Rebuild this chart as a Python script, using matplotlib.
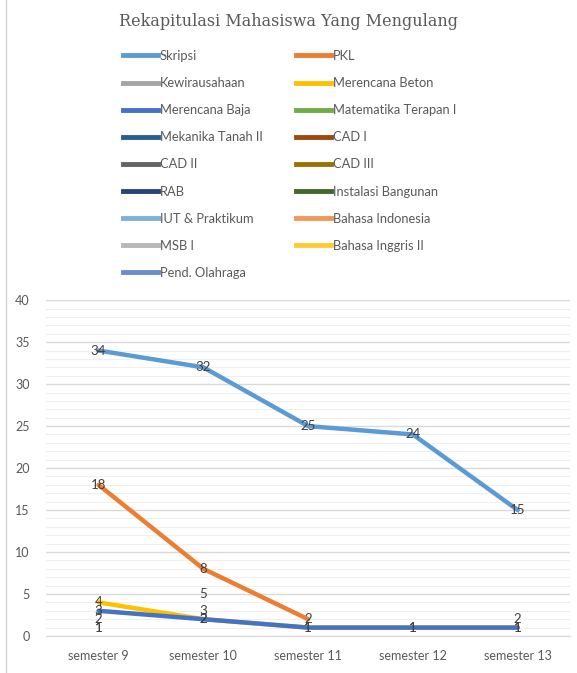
import matplotlib.pyplot as plt
from matplotlib.lines import Line2D
from matplotlib.ticker import MultipleLocator

semesters = ['semester 9', 'semester 10', 'semester 11', 'semester 12', 'semester 13']

# values per course (None = no data)
skripsi = [34, 32, 25, 24, 15]
pkl = [18, 8, 2, None, None]
kewirausahaan = [1, None, None, None, None]
merencana_beton = [4, 2, 1, 1, 1]
merencana_baja = [3, 2, 1, 1, 1]
matematika = [2, None, None, None, None]
mekanika = [1, None, None, None, None]
cad1 = [None, 5, None, None, None]
cad2 = [None, 3, None, None, None]
cad3 = [None, None, None, None, 2]
rab = [None, None, None, None, None]
instalasi = [None, None, None, None, None]
iut = [None, None, None, None, None]
bhs_indo = [None, None, None, None, None]
msb1 = [None, None, None, None, None]
bhs_inggris = [None, None, None, None, None]
olahraga = [None, None, None, None, None]

names = ['Skripsi', 'PKL', 'Kewirausahaan', 'Merencana Beton', 'Merencana Baja',
         'Matematika Terapan I', 'Mekanika Tanah II', 'CAD I', 'CAD II', 'CAD III',
         'RAB', 'Instalasi Bangunan', 'IUT & Praktikum', 'Bahasa Indonesia',
         'MSB I', 'Bahasa Inggris II', 'Pend. Olahraga']
series = [skripsi, pkl, kewirausahaan, merencana_beton, merencana_baja, matematika,
          mekanika, cad1, cad2, cad3, rab, instalasi, iut, bhs_indo, msb1,
          bhs_inggris, olahraga]
colors = ['#5B9BD5', '#ED7D31', '#A5A5A5', '#FFC000', '#4472C4', '#70AD47',
          '#255E91', '#9E480E', '#636363', '#997300', '#264478', '#43682B',
          '#7CAFDD', '#F1975A', '#B7B7B7', '#FFCD33', '#698ED0']

plt.rcParams['font.family'] = ['Lato', 'DejaVu Sans']

fig = plt.figure(figsize=(5.77, 6.73), dpi=100)
ax = fig.add_axes([0.08, 0.055, 0.908, 0.499])

x = list(range(len(semesters)))
order = [0, 1, 2, 5, 6, 7, 8, 9, 10, 11, 12, 13, 14, 15, 16, 3, 4]
handles = {}
for i in order:
    vals = series[i]
    xs = [xi for xi, v in zip(x, vals) if v is not None]
    ys = [v for v in vals if v is not None]
    ax.plot(xs, ys, color=colors[i], lw=3.2, solid_capstyle='round')
    handles[i] = Line2D([], [], color=colors[i], lw=3.5)
    for xi, v in zip(xs, ys):
        ax.text(xi, v, str(v), ha='center', va='center', fontsize=9.5,
                color='#404040', zorder=5)

ax.set_xlim(-0.5, 4.5)
ax.set_ylim(0, 40)
ax.set_xticks(x)
ax.set_xticklabels(semesters)
ax.yaxis.set_major_locator(MultipleLocator(5))
ax.yaxis.set_minor_locator(MultipleLocator(1))
ax.grid(which='major', axis='y', color='#D9D9D9', lw=1)
ax.grid(which='minor', axis='y', color='#EFEFEF', lw=0.8)
ax.set_axisbelow(True)
for s in ['top', 'right', 'left']:
    ax.spines[s].set_visible(False)
ax.spines['bottom'].set_color('#D9D9D9')
ax.tick_params(axis='both', which='both', length=0, colors='#595959', labelsize=9)
ax.tick_params(axis='x', pad=10)
ax.tick_params(axis='y', pad=12)

fig.text(0.5, 0.968, 'Rekapitulasi Mahasiswa Yang Mengulang', ha='center', va='center',
         fontsize=11.5, color='#595959', family='DejaVu Serif')

# legend: Excel fills row by row, matplotlib column by column
leg_idx = list(range(0, 17, 2)) + list(range(1, 17, 2))
fig.legend([handles[i] for i in leg_idx], [names[i] for i in leg_idx],
           ncol=2, loc='upper left', bbox_to_anchor=(0.193, 0.943),
           frameon=False, fontsize=9.3, handlelength=2.7, handletextpad=0.15,
           labelspacing=1.17, columnspacing=2.6, labelcolor='#595959')

fig.add_artist(Line2D([0.011, 0.011], [0.0, 1.0], color='#D0D0D0', lw=1))

fig.savefig('out.png')
